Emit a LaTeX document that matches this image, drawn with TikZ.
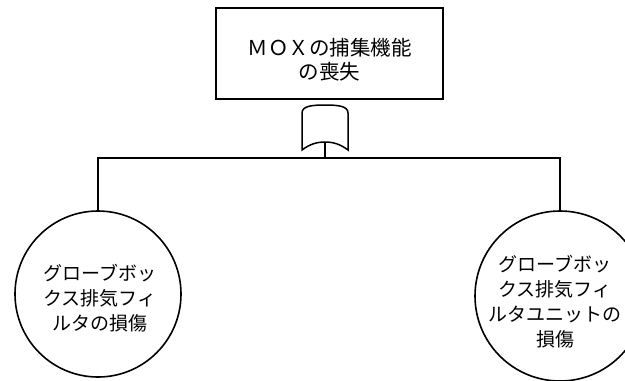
\documentclass[tikz,border=0pt]{standalone}
\usepackage{fontspec}
\newfontfamily\jpfont{Noto Sans CJK JP}
\usepackage{tikz}
\usetikzlibrary{positioning,calc}

\begin{document}
\begin{tikzpicture}[
    x=1bp, y=-1bp,
    eventBox/.style={rectangle, draw=black, line width=1.8bp, minimum width=227bp, minimum height=91bp, inner sep=0pt},
    boxText/.style={font=\jpfont\fontsize{20.5bp}{24bp}\selectfont, align=center, inner sep=0pt},
    circleText/.style={font=\jpfont\fontsize{19bp}{25bp}\selectfont, align=center, inner sep=0pt},
    basicCircle/.style={circle, draw=black, line width=1.6bp, inner sep=0pt, align=center, font=\jpfont\fontsize{19bp}{25bp}\selectfont},
    lineStyle/.style={draw=black, line width=1.5bp}
]
    \useasboundingbox (0,0) rectangle (625,380);

    \node[eventBox] (top) at (329.5,53.5) {};
    \node[boxText] (topText) at (329.5,60) {ＭＯＸの捕集機能\\の喪失};

    \node[basicCircle, minimum size=166bp] (left) at (98,294) {};
    \node[circleText] (leftText) at (100,298) {グローブボッ\\クス排気フィ\\ルタの損傷};
    \node[basicCircle, minimum size=170bp] (right) at (560,296) {};
    \node[circleText] (rightText) at (555,302) {グローブボッ\\クス排気フィ\\ルタユニットの\\損傷};

    % OR gate under the top event
    \coordinate (gateIn) at (325,142);
    \coordinate (branch) at (325,158);
    \draw[lineStyle] (302,150) -- (302,113)
        .. controls (302,106) and (312,105) .. (325,105)
        .. controls (338,105) and (348,106) .. (348,113)
        -- (348,150)
        .. controls (340,144) and (333,142) .. (gateIn)
        .. controls (317,142) and (310,144) .. (302,150) -- cycle;

    % Branching connectors
    \draw[lineStyle] (gateIn) -- (branch);
    \draw[lineStyle] (branch) -| (left.north);
    \draw[lineStyle] (branch) -| (right.north);
\end{tikzpicture}
\end{document}
